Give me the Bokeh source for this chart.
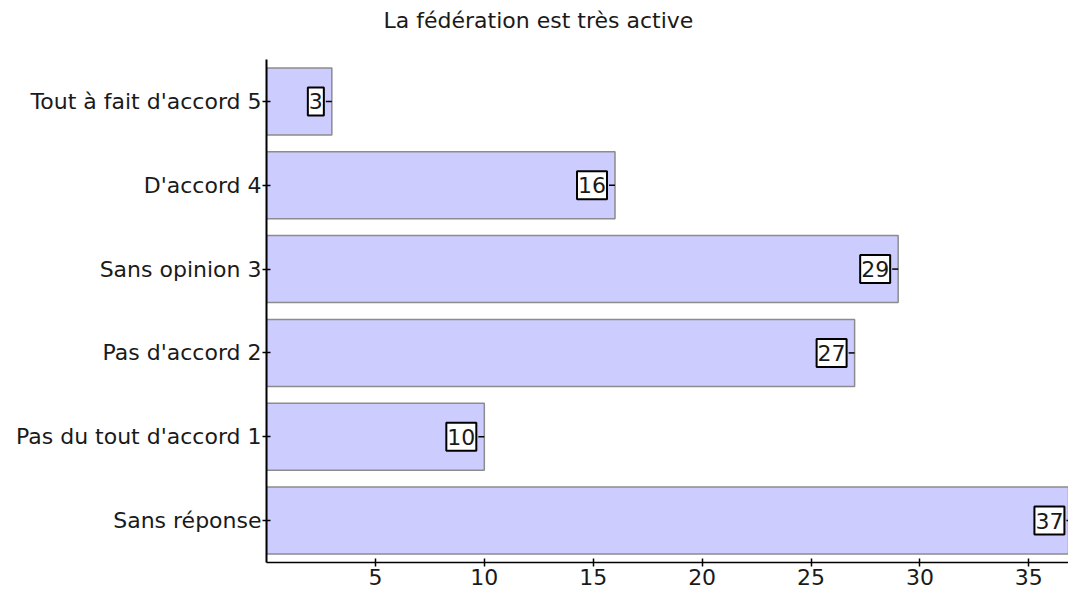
from math import pi
from bokeh.plotting import figure
from bokeh.models import FactorRange, Range1d, FixedTicker, ColumnDataSource, Title
from bokeh.core.properties import value
from bokeh.embed import file_html
from bokeh.resources import INLINE

title_text = "La fédération est très active"
categories = ["Sans réponse", "Pas du tout d'accord 1", "Pas d'accord 2",
              "Sans opinion 3", "D'accord 4", "Tout à fait d'accord 5"]
counts = [37, 10, 27, 29, 16, 3]
x_ticks = [5, 10, 15, 20, 25, 30, 35]

FONT = "DejaVu Sans"
FS = "22px"
TXT = "#1a1a1a"

src = ColumnDataSource(dict(cat=categories, n=counts, lbl=[str(v) for v in counts]))

p = figure(width=1068, height=597,
           y_range=FactorRange(factors=categories, range_padding=0),
           x_range=Range1d(0, 36.82),
           output_backend="svg", toolbar_location=None,
           min_border_left=266, min_border_right=0,
           min_border_top=0, min_border_bottom=35,
           background_fill_color="white", border_fill_color="white")

p.hbar(y="cat", left=0, right="n", height=0.8, source=src,
       fill_color="#CCCCFF", line_color="#8c8c8c", line_width=1.5)

p.ray(x="n", y="cat", length=6, angle=pi, length_units="screen", source=src,
      line_color="black", line_width=1.5)

p.text(x="n", y="cat", text="lbl", source=src, x_offset=-8,
       text_align="right", text_baseline="middle",
       text_font=value(FONT), text_font_size=FS, text_color=TXT,
       background_fill_color="white",
       border_line_color="black", border_line_width=2, padding=(1, 6))

# spacer between title and plot area
p.add_layout(Title(text=" ", text_font_size="1px", standoff=15), "above")

p.title.text = title_text
p.title.text_font = FONT
p.title.text_font_size = FS
p.title.text_font_style = "normal"
p.title.text_color = TXT
p.title.align = "left"
p.title.offset = 117
p.title.vertical_align = "top"
p.title.standoff = 14

p.xgrid.grid_line_color = None
p.ygrid.grid_line_color = None
p.outline_line_color = None

p.xaxis.ticker = FixedTicker(ticks=x_ticks)
p.xaxis.minor_tick_line_color = None
for ax in (p.xaxis, p.yaxis):
    ax.major_tick_in = 4
    ax.major_tick_out = 4
    ax.axis_line_color = "black"
    ax.major_tick_line_color = "black"
    ax.major_label_text_font = FONT
    ax.major_label_text_font_size = FS
    ax.major_label_text_color = TXT
p.xaxis.axis_line_width = 1.5
p.yaxis.axis_line_width = 2
p.xaxis.major_tick_line_width = 1.5
p.yaxis.major_tick_line_width = 1.5
p.xaxis.major_label_standoff = 2
p.yaxis.major_label_standoff = 1

open("out.html", "w").write(file_html(p, INLINE))
